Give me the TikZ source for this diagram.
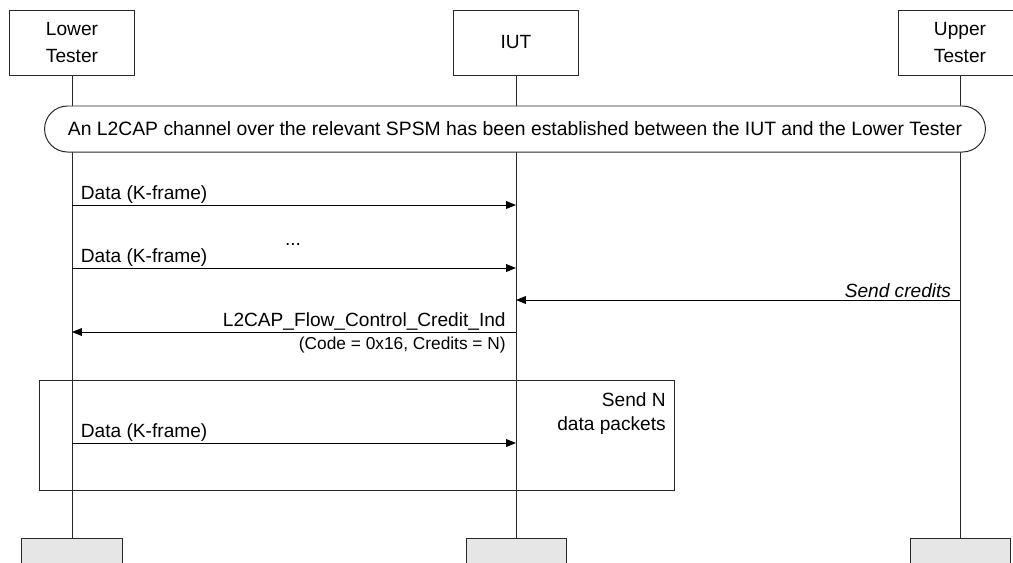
\documentclass[tikz,border=0pt]{standalone}
\usepackage{fontspec}
\setmainfont{Liberation Sans}
\usetikzlibrary{arrows.meta,positioning,shapes.misc}
\definecolor{ln}{RGB}{40,40,40}
\definecolor{footgray}{RGB}{230,230,230}

\begin{document}
\begin{tikzpicture}[x=0.025cm, y=-0.025cm,
    every node/.style={font=\fontsize{13.6}{16}\selectfont},
    head/.style={draw=ln, line width=0.7pt, fill=white, minimum width=3.1cm,
                 minimum height=1.625cm, align=center, inner sep=0pt,
                 font=\fontsize{13.6}{19}\selectfont},
    foot/.style={draw=ln, line width=0.7pt, fill=footgray, anchor=north,
                 minimum width=2.5cm, minimum height=1cm},
    life/.style={line width=0.7pt, ln},
    msg/.style={-{Triangle[length=7pt,width=5.5pt]}, line width=0.7pt},
    lbl/.style={inner sep=1pt}]

    \useasboundingbox (0,0) rectangle (1013,562);

    % lifeline heads and feet
    \node[head] (lt) at (72,42.5) {Lower\\Tester};
    \node[head] (iut) at (516,42.5) {IUT};
    \node[head] (ut) at (960,42.5) {Upper\\Tester};
    \node[foot] (ltf) at (72,538) {};
    \node[foot] (iutf) at (516,538) {};
    \node[foot] (utf) at (960,538) {};
    \draw[life] (lt) -- (ltf);
    \draw[life] (iut) -- (iutf);
    \draw[life] (ut) -- (utf);

    % precondition
    \node[rounded rectangle, draw=ln, line width=0.7pt, fill=white,
          minimum width=23.75cm, minimum height=1.15cm,
          font=\fontsize{13.75}{16}\selectfont] (pre) at (515,129)
          {An L2CAP channel over the relevant SPSM has been established between the IUT and the Lower Tester};

    % data before credits
    \coordinate (lt1) at (72,205);  \coordinate (iut1) at (516,205);
    \coordinate (lt2) at (72,268);  \coordinate (iut2) at (516,268);
    \draw[msg] (lt1) -- (iut1) node[pos=0, above right, lbl, xshift=5pt] {Data (K-frame)};
    \node (dots) at (293,244) {...};
    \draw[msg] (lt2) -- (iut2) node[pos=0, above right, lbl, xshift=5pt] {Data (K-frame)};

    % credits
    \coordinate (ut3) at (960,300); \coordinate (iut3) at (516,300);
    \coordinate (iut4) at (516,332); \coordinate (lt4) at (72,332);
    \draw[msg] (ut3) -- (iut3) node[pos=0, above left, lbl, xshift=-5pt] {\itshape Send credits};
    \draw[msg] (iut4) -- (lt4)
        node[pos=0, above left, lbl, xshift=-6pt] {L2CAP\_Flow\_Control\_Credit\_Ind}
        node[pos=0, below left, inner sep=3pt, xshift=-4pt, font=\fontsize{12.3}{14}\selectfont] {(Code = 0x16, Credits = N)};

    % loop
    \node[draw=ln, line width=0.7pt, minimum width=15.85cm, minimum height=2.75cm,
          inner sep=0pt] (loop) at (357,435) {};
    \node[anchor=north east, align=right, inner sep=0pt,
          font=\fontsize{13.6}{17}\selectfont] (loopl) at (666,392) {Send N\\data packets};
    \coordinate (lt5) at (72,443);  \coordinate (iut5) at (516,443);
    \draw[msg] (lt5) -- (iut5) node[pos=0, above right, lbl, xshift=5pt] {Data (K-frame)};
  \end{tikzpicture}
\end{document}
